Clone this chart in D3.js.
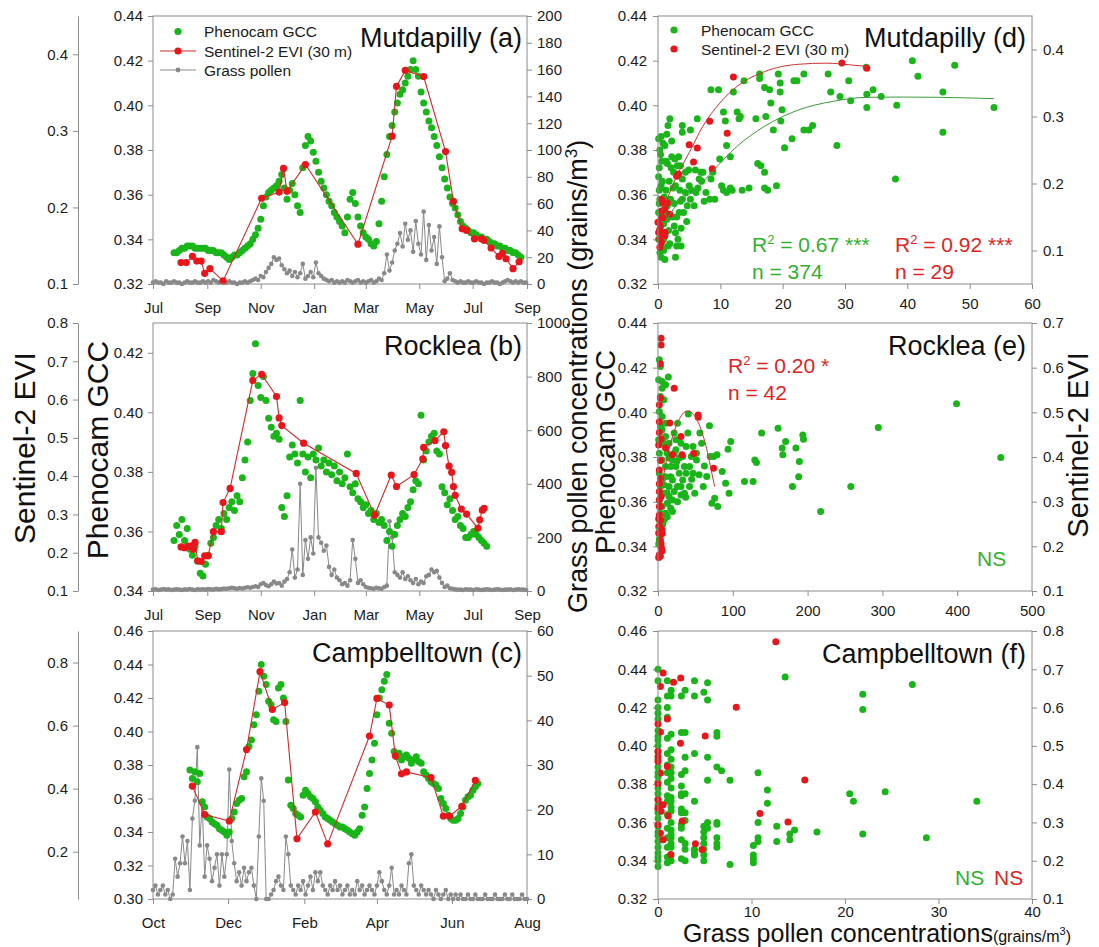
<!DOCTYPE html>
<html><head><meta charset="utf-8">
<script src="https://cdn.jsdelivr.net/npm/d3@7"></script>
<style>
body{margin:0;background:#fff;}
svg{display:block;}
</style></head><body>
<svg id="chart" width="1099" height="947"></svg>
<script>
// ===================== DATA =====================
const monthTicksAB = ["2017-07-01","2017-09-01","2017-11-01","2018-01-01","2018-03-01","2018-05-01","2018-07-01","2018-09-01"];
const monthTicksC  = ["2017-10-01","2017-12-01","2018-02-01","2018-04-01","2018-06-01","2018-08-01"];

// Panel a (Mutdapilly) time series
const gccA_start = "2017-07-25", gccA_step = 3;
const gccA = [.334,.334,.335,.336,.336,.337,.337,.337,.336,.336,.336,.336,.336,.335,.335,.335,.334,.334,.334,.333,
.332,.331,.332,.333,.333,.334,.335,.336,.337,.338,.340,.342,.345,.349,.355,.359,.361,.362,.363,.364,
.366,.369,.363,.358,.362,.365,.360,.355,.352,.372,.382,.386,.384,.379,.375,.370,.366,.363,.360,.357,
.355,.352,.350,.348,.346,.343,.350,.358,.361,.356,.350,.346,.343,.341,.340,.338,.337,.339,.347,.357,
.368,.378,.386,.391,.397,.401,.405,.407,.410,.413,.416,.420,.416,.413,.406,.401,.397,.393,.390,.386,
.382,.377,.372,.367,.363,.359,.356,.354,.351,.348,.346,.345,.344,.343,.343,.342,.341,.341,.340,.340,
.339,.338,.338,.337,.337,.336,.336,.335,.335,.334,.334,.333,.332];
const polA_start = "2017-07-01", polA_step = 3;
const polA = [1,2,1,1,0,2,1,1,2,1,1,0,1,2,1, 1,2,1,1,2,1,2,1,3,2,1,2,1,1,2, 1,1,0,1,1,2,1,2,3,4,3,6,5,9,12,
15,20,18,19,14,11,8,10,6,9,5,8,15,4,6, 9,5,16,8,6,4,3,2,3,1,2,1,2,1,3, 2,1,2,3,1,2,1,2,3,1,2,4,3,8,22,
10,16,25,30,38,28,45,33,40,24,47,30,22,54,18, 44,25,35,15,43,20,2,4,8,3,2,1,2,1,1,
2,1,1,2,1,1,0,1,1,2,1,1,0,1,2, 3,2,1,2,1,2,1,1];
// [day offset from 2017-07-01, EVI]
const eviA = [[32,.128],[38,.128],[45,.136],[50,.130],[55,.130],[59,.114],[65,.120],[80,.104],[124,.212],[144,.220],
[149,.251],[153,.221],[174,.256],[234,.152],[273,.293],[278,.358],[288,.379],[309,.371],[334,.273],[343,.208],
[353,.172],[358,.170],[367,.159],[375,.159],[378,.157],[386,.147],[395,.136],[399,.140],[403,.133],[411,.120],[418,.129]];

// Panel b (Rocklea)
const gccB_start = "2017-07-25", gccB_step = 3;
const gccB = [.357,.362,.359,.364,.357,.361,.354,.352,.355,.350, .346,.345,.349,.352,.356,.358,.362,.364,.361,.366,
.364,.368,.370,.367,.372,.370,.378,.384,.390,.404, .413,.423,.409,.405,.412,.404,.398,.395,.392,.393,
.391,.368,.365,.372,.385,.389,.386,.383,.404,.386, .380,.385,.378,.386,.384,.388,.382,.384,.380,.383,
.379,.382,.377,.380,.376,.378,.386,.375,.373,.376, .371,.370,.368,.369,.366,.367,.364,.366,.363,.364,
.362,.357,.360,.355,.359,.362,.364,.366,.365,.368, .370,.374,.377,.376,.399,.384,.387,.390,.392,.393,
.387,.386,.375,.373,.369,.371,.367,.364,.365,.362, .361,.358,.358,.359,.360,.359,.358,.357,.356,.355];
const polB_start = "2017-07-01", polB_step = 3;
const polB = [5,6,4,5,7,5,6,4,5,6,5,4,6,5,7, 5,4,6,5,6,5,7,6,5,8,6,7,9,8,10, 12,10,8,11,9,12,14,12,15,18,15,25,30,22,18,
25,35,28,30,20,35,45,70,155,50,80,400,60,190,120, 200,140,460,200,180,150,170,90,60,80,50,40,25,30,20,
40,190,120,30,40,25,15,12,10,8,12,10,8,15,20, 260,200,70,60,50,70,45,55,40,30,45,25,35,30,55,
60,80,70,75,50,30,15,20,10,8,6,5,5,4,6, 5,5,4,6,5,4,5,6,5,4,5,6,5,4,5, 5,6,4,5,6,5,5,4];
const eviB = [[32,.215],[36,.213],[40,.217],[44,.218],[46,.209],[48,.227],[51,.179],[55,.177],[59,.192],[63,.192],
[69,.255],[78,.255],[80,.331],[88,.368],[114,.650],[124,.666],[141,.608],[144,.552],[147,.532],[172,.486],
[232,.407],[253,.298],[272,.403],[278,.373],[298,.404],[308,.445],[309,.475],[322,.493],[332,.516],[334,.480],
[338,.426],[341,.410],[343,.373],[345,.350],[352,.314],[358,.301],[371,.264],[373,.286],[376,.311],[378,.316]];

// Panel c (Campbelltown)
const gccC_start = "2017-10-31", gccC_step = 2;
const gccC = [.377,.372,.376,.370,.375,.358,.355,.349,.348,.346, .345,.344,.342,.341,.340,.338,.340,.348,.352,.357,
.359,.360,.373,.376,.391,.395,.404,.410,.424,.440, .433,.428,.418,.416,.407,.406,.426,.428,.420,.406,
.371,.356,.354,.351,.350,.349,.362,.365,.363,.361, .360,.358,.355,.353,.351,.349,.348,.347,.346,.345,
.344,.343,.343,.342,.341,.340,.339,.338,.340,.342, .350,.355,.366,.375,.383,.393,.410,.420,.425,.430,
.434,.405,.399,.388,.385,.387,.383,.385,.386,.384, .381,.383,.385,.382,.381,.376,.374,.372,.370,.369,
.368,.366,.360,.357,.354,.350,.348,.347,.347,.348, .351,.355,.359,.361,.362,.365,.367,.369];
const polC_start = "2017-10-01", polC_step = 2;
const polC = [2,3,1,2,3,1,2,0,1,9, 5,8,14,8,13,2,18,22,34,12, 22,5,12,9,4,7,10,3,10,5, 10,29,13,8,4,6,3,7,4,6,
7,3,0,14,27,22,0,0,1,2, 4,5,3,2,14,10,3,2,1,3, 2,4,1,3,5,2,6,4,6,3, 2,1,3,2,4,2,3,1,2,3,
1,2,1,4,2,3,1,2,3,2, 1,3,6,4,2,1,3,7,1,2, 1,3,2,1,8,10,3,2,1,3, 2,1,2,1,0,2,1,0,1,2,
0,1,0,1,0,1,0,0,1,0, 0,1,0,0,0,1,0,0,0,1, 0,0,0,1,0,0,1,0,0,0, 1,0,0];
// [day offset from 2017-10-01, EVI]
const eviC = [[32,.408],[42,.318],[62,.297],[76,.524],[87,.771],[97,.651],[107,.673],[117,.241],[132,.326],[142,.225],
[176,.567],[182,.686],[192,.665],[197,.504],[202,.447],[206,.453],[226,.435],[236,.313],[241,.313],[251,.344],[262,.426]];

// Panel d scatter: [pollen, GCC] and [pollen, EVI]
const scatD_gcc = [[0.1,.385],[0.5,.386],[0.3,.380],[0.4,.378],[0.1,.368],[0.5,.364],[0.3,.358],[0.1,.352],[0.4,.346],[0.1,.340],
[0.3,.334],[0.5,.332],[1.1,.331],[0.8,.336],[1.2,.343],[1.4,.349],[1.5,.355],[1.0,.359],[0.8,.383],[1.6,.391],
[1.1,.382],[1.5,.374],[1.9,.394],[2.2,.377],[2.5,.370],[2.8,.364],[2.6,.356],[3.0,.350],[2.8,.343],[3.0,.337],
[2.8,.332],[3.3,.377],[3.6,.373],[3.9,.391],[3.9,.388],[3.9,.367],[3.9,.358],[4.1,.352],[3.7,.345],[3.7,.337],
[4.4,.370],[4.4,.361],[4.7,.355],[5.0,.364],[5.2,.358],[5.2,.389],[5.8,.355],[6.1,.361],[6.3,.394],[6.6,.367],
[6.9,.370],[7.2,.370],[7.7,.361],[8.3,.358],[8.5,.407],[8.5,.367],[8.8,.370],[9.1,.358],[9.7,.407],[9.9,.376],
[10.2,.364],[10.5,.362],[10.5,.397],[10.8,.393],[11.0,.382],[11.0,.361],[11.6,.377],[11.6,.363],[11.9,.362],[12.1,.406],
[12.7,.397],[13.0,.394],[13.2,.395],[13.5,.362],[13.8,.411],[14.6,.363],[15.7,.394],[16.0,.374],[16.3,.414],[16.3,.412],
[16.5,.373],[17.1,.370],[17.1,.363],[17.1,.408],[17.3,.395],[17.6,.362],[17.9,.407],[18.1,.401],[18.5,.389],[19.0,.364],
[19.3,.414],[19.6,.410],[19.6,.406],[19.7,.393],[19.9,.398],[20.3,.381],[21.5,.385],[21.8,.411],[22.3,.411],[23.4,.414],
[23.4,.389],[24.2,.389],[24.8,.391],[27.3,.414],[27.7,.406],[28.7,.382],[29.2,.404],[30.6,.411],[30.9,.402],[33.4,.417],
[33.5,.405],[33.5,.399],[34.5,.407],[35.8,.404],[38.1,.367],[38.3,.400],[40.8,.420],[41.7,.413],[45.7,.406],[45.7,.388],
[47.6,.418],[53.9,.399],[0.2,.362],[0.6,.375],[0.2,.372],[0.7,.366],[0.3,.344],[0.6,.350],[0.2,.356],[0.9,.340],
[1.3,.362],[1.8,.366],[2.0,.358],[2.3,.350],[1.7,.344],[1.9,.338],[2.4,.363],[2.1,.372],[1.3,.375],[0.5,.340],
[0.9,.347],[1.2,.352],[2.6,.346],[3.4,.352],[3.2,.340],[4.6,.348],[5.4,.362],[6.4,.363],[7.0,.366],[7.4,.357],
[6.0,.371],[4.9,.371],[3.5,.362],[2.2,.384],[1.4,.387],[0.4,.363],[0.9,.335],[1.6,.337],[2.7,.376],[3.1,.373],[3.6,.357]];
const scatD_evi = [[0.3,.105],[0.3,.132],[0,.142],[0.55,.159],[0.8,.171],[1.1,.162],[0.3,.117],[0.8,.122],[1.1,.122],[0.55,.149],
[1.5,.171],[1.9,.154],[3.0,.211],[3.3,.214],[5.0,.258],[5.7,.232],[6.3,.253],[8.3,.293],[8.7,.222],[11.1,.275],
[12.1,.359],[29.5,.380],[33.5,.372],[0.55,.176],[0.4,.137],[0.8,.149],[0.1,.127],[0.55,.112],[1.1,.127]];
const fitD_gcc = [[0.8,.346],[3.0,.3555],[6.1,.3625],[8.8,.3706],[12.7,.3817],[17.1,.3906],[22.6,.398],[28.1,.4018],[33.6,.4036],[39.2,.4037],[44.7,.4036],[53.9,.403]];
const fitD_evi = [[0.3,.152],[1.65,.181],[3.0,.211],[5.0,.246],[7.2,.2855],[9.9,.320],[12.7,.345],[17.1,.367],[22.6,.378],[27.0,.3796],[30.9,.377],[33.6,.3747]];

// Panel e scatter
const scatE_gcc = [[1.8,.4235],[3.2,.4205],[0.9,.4146],[5.5,.4138],[10.1,.4123],[13.8,.4158],[5.5,.4108],[3.2,.4071],[7.8,.4056],[1.8,.4004],
[5.5,.3981],[10.1,.3951],[3.2,.3937],[0.9,.3877],[7.8,.3862],[1.8,.3817],[5.5,.3787],[10.1,.3757],[1.8,.3727],[5.5,.3697],
[3.2,.3668],[7.8,.3638],[1.8,.3608],[5.5,.3578],[3.2,.3548],[1.8,.3518],[0.9,.3488],[3.2,.3458],[10.1,.3548],[17.0,.3571],
[19.3,.3556],[14.7,.3623],[14.7,.3668],[19.3,.3697],[17.0,.3757],[21.6,.3817],[14.7,.3862],[21.6,.3907],[26.1,.3951],[23.9,.3832],
[28.4,.3727],[26.1,.3668],[30.7,.3630],[33.0,.3697],[35.3,.3757],[33.0,.3802],[37.6,.3847],[39.9,.3907],[40.5,.3993],[42.2,.3668],
[46.8,.3727],[49.1,.3638],[51.4,.3787],[56.0,.3907],[58.3,.3862],[60.5,.3668],[65.1,.3713],[68.8,.3940],[69.7,.3802],[72.0,.3593],
[74.3,.3802],[75.7,.3615],[78.9,.3810],[79.8,.3578],[85.8,.3735],[90.4,.3683],[93.6,.3835],[95.0,.3638],[97.2,.3869],[138.5,.3907],
[115.6,.3690],[127.1,.3690],[129.4,.3787],[131.6,.3775],[160.5,.3929],[166.0,.3840],[166.9,.3810],[170.6,.3869],[179.8,.3668],[184.4,.3840],
[188.1,.3712],[189.0,.3780],[193.6,.3899],[194.5,.3880],[217.4,.3556],[257.8,.3668],[294.5,.3932],[399.1,.4038],[458.2,.3798],
[5.5,.3922],[10.1,.3892],[12.4,.3817],[14.7,.3795],[19.3,.3787],[23.9,.3757],[28.4,.3795],[30.7,.3862],[23.9,.3877],[17.0,.3712],
[21.6,.3645],[19.3,.3608],[26.1,.3600],[30.7,.3668],[35.3,.3638],[37.6,.3727],[42.2,.3757],[44.5,.3802],[46.8,.3847],[51.4,.3817],
[10.1,.3712],[7.8,.3675],[12.4,.3593],[12.4,.3533],[1.8,.3429],[3.7,.3399],[5.5,.3458],[1.0,.3410],[2.5,.3440],[6.5,.3500],
[8.5,.3520],[12.0,.3640],[25.0,.3780],[45,.3700],[55,.3720],[62,.3760],[37,.3620]];
const scatE_evi = [[4.1,.666],[4.1,.651],[3.2,.609],[21.6,.554],[3.2,.532],[1.8,.517],[1.8,.479],[15.6,.476],[0.9,.427],[10.1,.420],
[30.7,.446],[32.1,.405],[19.3,.405],[47.7,.408],[53.7,.494],[53.7,.489],[74.3,.375],[1.8,.371],[3.2,.352],[1.8,.323],
[4.1,.311],[1.8,.304],[3.2,.289],[1.8,.270],[3.2,.259],[5.5,.229],[3.2,.214],[4.6,.196],[1.8,.181],[0.9,.175],
[5.5,.237],[1.8,.340],[3.2,.392],[0.9,.230],[4.1,.206],[1.8,.289],[5.5,.190],[1.8,.455],[4.1,.440],[1.8,.246],[3.2,.178],[0.9,.262]];
const fitE_evi = [[4.6,.334],[10,.380],[15,.419],[20,.449],[25,.473],[30,.489],[35,.500],[40,.503],[45,.500],[50,.489],[55,.473],[60,.449],[65,.419],[70,.380],[75.7,.334]];

// Panel f scatter: GCC values grouped by pollen value
const scatF_gccCols = [
 [0,[.440,.434,.424,.420,.417,.414,.408,.405,.403,.400,.397,.393,.389,.386,.384,.381,.378,.375,.372,.369,.367,.365,.362,.358,.355,.353,.350,.347,.344,.342,.340,.337]],
 [1.0,[.434,.426,.420,.415,.404,.396,.390,.386,.381,.374,.371,.364,.357,.352,.347,.342,.339]],
 [1.4,[.429,.426,.406,.398,.393,.389,.386,.383,.378,.373,.371,.368,.366,.360,.356,.354,.352,.349,.347,.343,.340]],
 [2.5,[.426,.407,.385,.379,.375,.374,.367,.365,.359,.357,.351,.341]],
 [2.9,[.429,.407,.394,.387,.375,.365,.361,.349,.346,.340]],
 [3.9,[.434,.426,.396,.371,.346,.344,.343]],
 [4.9,[.428,.358,.355,.352,.349,.346,.343,.340]],
 [5.3,[.433,.424,.394,.382,.360,.357]],
 [6.3,[.407,.405,.389,.360,.359,.352,.349,.347]],
 [6.8,[.387]],[7.7,[.382,.338]],[10.2,[.348,.343,.341,.339]],[10.7,[.386,.360,.352,.350]],
 [11.7,[.377,.370]],[12.7,[.358,.350]],[13.6,[.436]],[14.1,[.354,.351]],[14.6,[.356]],[17.0,[.355]],
 [20.5,[.375]],[20.9,[.371]],[21.9,[.427,.419,.354]],[24.3,[.376]],[27.2,[.432]],[28.7,[.352]],[34.1,[.371]]];
const scatF_evi = [[0.55,.690],[0.26,.655],[1.66,.666],[2.43,.677],[1.0,.570],[0,.557],[0.26,.536],[8.37,.601],[5.05,.526],[2.40,.507],
[0,.485],[0,.472],[0,.459],[1.0,.446],[0.26,.429],[0,.401],[0,.359],[0.26,.346],[0.55,.346],[0,.337],
[0.33,.329],[1.1,.317],[2.58,.304],[0,.294],[0.26,.272],[0.55,.255],[4.0,.244],[4.7,.229],[1.36,.216],[12.6,.772],
[15.7,.411],[10.9,.323],[13.9,.301]];

const statsD = [{r2:"0.67", stars:"***", n:"374", color:"green"},{r2:"0.92", stars:"***", n:"29", color:"red"}];
const statsE = [{r2:"0.20", stars:"*", n:"42", color:"red"}];

// ===================== DRAWING =====================
const FONT = '"Liberation Sans", Arial, Helvetica, sans-serif';
const GREEN = "#19b519", RED = "#e8161b", REDLINE = "#cf2a2a", GREY = "#898989", AXIS = "#8c8c8c", TXT = "#1c1c1c";
const TXTGREEN = "#2fb12f", TXTRED = "#e02424";
const parse = d3.timeParse("%Y-%m-%d");
const svg = d3.select("#chart").attr("font-family", FONT);

const L = {x0:153, x1:527}, R = {x0:658, x1:1032};
const ROWS = [{y0:16, y1:284},{y0:323, y1:591},{y0:631, y1:899}];
const EVI_X = 78;

function series(start, step, vals){
  const s = parse(start);
  return vals.map((v,i)=>({date:d3.timeDay.offset(s, i*step), v}));
}
function dated(start, pairs){
  const s = parse(start);
  return pairs.map(([d,v])=>({date:d3.timeDay.offset(s, d), v}));
}
function addAxis(g, axis, tx, ty, keepDomain){
  const a = g.append("g").attr("transform", `translate(${tx},${ty})`).call(axis);
  a.attr("font-family", FONT).attr("font-size", 15);
  a.selectAll(".tick line").attr("stroke", AXIS);
  a.selectAll(".tick text").attr("fill", TXT);
  if (keepDomain) a.select(".domain").attr("stroke", AXIS); else a.select(".domain").remove();
  return a;
}

function timePanel(p){
  const row = ROWS[p.row];
  const g = svg.append("g");
  const x = d3.scaleTime().domain([parse(p.start), parse(p.end)]).range([L.x0, L.x1]);
  const yG = d3.scaleLinear().domain(p.gccDom).range([row.y1, row.y0]);
  const yE = d3.scaleLinear().domain(p.eviDom).range([row.y1, row.y0]);
  const yP = d3.scaleLinear().domain(p.polDom).range([row.y1, row.y0]);

  addAxis(g, d3.axisLeft(yE).tickValues(p.eviTicks).tickFormat(d3.format(".1f")).tickSize(5).tickPadding(5).tickSizeOuter(0), EVI_X, 0, true);
  addAxis(g, d3.axisLeft(yG).tickValues(d3.range(p.gccDom[0], p.gccTop + 1e-9, 0.02)).tickFormat(d3.format(".2f")).tickSize(5).tickPadding(5).tickSizeOuter(0), L.x0, 0, false);
  addAxis(g, d3.axisRight(yP).tickValues(d3.range(0, p.polDom[1] + 1e-9, p.polStep)).tickFormat(d3.format("d")).tickSize(5).tickPadding(5).tickSizeOuter(0), L.x1, 0, false);
  addAxis(g, d3.axisBottom(x).tickValues(p.xTicks.map(parse)).tickFormat(d3.timeFormat("%b")).tickSize(5).tickPadding(13).tickSizeOuter(0), 0, row.y1, false);

  // pollen
  const pol = series(p.polStart, p.polStepDays, p.pol);
  g.append("path").datum(pol).attr("fill","none").attr("stroke", GREY).attr("stroke-width", 1)
    .attr("d", d3.line().x(d=>x(d.date)).y(d=>yP(d.v)));
  g.append("g").selectAll("circle").data(pol).join("circle")
    .attr("cx", d=>x(d.date)).attr("cy", d=>yP(d.v)).attr("r", 2.3).attr("fill", GREY);
  // GCC
  const gcc = series(p.gccStart, p.gccStep, p.gcc);
  g.append("g").selectAll("circle").data(gcc).join("circle")
    .attr("cx", d=>x(d.date)).attr("cy", d=>yG(d.v)).attr("r", 3.5).attr("fill", GREEN);
  // EVI
  const evi = dated(p.eviStart, p.evi);
  g.append("path").datum(evi).attr("fill","none").attr("stroke", REDLINE).attr("stroke-width", 1.1)
    .attr("d", d3.line().x(d=>x(d.date)).y(d=>yE(d.v)));
  g.append("g").selectAll("circle").data(evi).join("circle")
    .attr("cx", d=>x(d.date)).attr("cy", d=>yE(d.v)).attr("r", 3.6).attr("fill", RED);

  g.append("rect").attr("x", L.x0).attr("y", row.y0).attr("width", L.x1-L.x0).attr("height", row.y1-row.y0)
    .attr("fill","none").attr("stroke", AXIS).attr("stroke-width", 1);
  g.append("text").attr("x", L.x1-5).attr("y", p.titleY).attr("text-anchor","end")
    .attr("font-size", 27).attr("fill", "#111").text(p.title);
}

function scatterPanel(p){
  const row = ROWS[p.row];
  const g = svg.append("g");
  const x = d3.scaleLinear().domain(p.xDom).range([R.x0, R.x1]);
  const yG = d3.scaleLinear().domain(p.gccDom).range([row.y1, row.y0]);
  const yE = d3.scaleLinear().domain(p.eviDom).range([row.y1, row.y0]);

  addAxis(g, d3.axisLeft(yG).tickValues(d3.range(p.gccDom[0], p.gccDom[1] + 1e-9, 0.02)).tickFormat(d3.format(".2f")).tickSize(5).tickPadding(6).tickSizeOuter(0), R.x0, 0, false);
  addAxis(g, d3.axisRight(yE).tickValues(p.eviTicks).tickFormat(d3.format(".1f")).tickSize(5).tickPadding(6).tickSizeOuter(0), R.x1, 0, false);
  addAxis(g, d3.axisBottom(x).tickValues(d3.range(p.xDom[0], p.xDom[1] + 1e-9, p.xStep)).tickFormat(d3.format("d")).tickSize(5).tickPadding(p.xPad || 9.5).tickSizeOuter(0), 0, row.y1, false);

  g.append("g").selectAll("circle").data(p.gcc).join("circle")
    .attr("cx", d=>x(d[0])).attr("cy", d=>yG(d[1])).attr("r", 3.5).attr("fill", GREEN);
  g.append("g").selectAll("circle").data(p.evi).join("circle")
    .attr("cx", d=>x(d[0])).attr("cy", d=>yE(d[1])).attr("r", 3.5).attr("fill", RED);
  if (p.fitG) g.append("path").datum(p.fitG).attr("fill","none").attr("stroke","#3c9a3c").attr("stroke-width",1)
    .attr("d", d3.line().curve(d3.curveMonotoneX).x(d=>x(d[0])).y(d=>yG(d[1])));
  if (p.fitE) g.append("path").datum(p.fitE).attr("fill","none").attr("stroke","#c93434").attr("stroke-width",1)
    .attr("d", d3.line().curve(d3.curveMonotoneX).x(d=>x(d[0])).y(d=>yE(d[1])));

  g.append("rect").attr("x", R.x0).attr("y", row.y0).attr("width", R.x1-R.x0).attr("height", row.y1-row.y0)
    .attr("fill","none").attr("stroke", AXIS).attr("stroke-width", 1);
  g.append("text").attr("x", R.x1-6).attr("y", p.titleY).attr("text-anchor","end")
    .attr("font-size", 27).attr("fill", "#111").text(p.title);
  return g;
}

function statText(g, x, y, s){
  const col = s.color === "green" ? TXTGREEN : TXTRED;
  const t = g.append("text").attr("x", x).attr("y", y).attr("fill", col).attr("font-size", 21);
  t.append("tspan").text("R");
  t.append("tspan").attr("dy", -8).attr("font-size", 13).text("2");
  t.append("tspan").attr("dy", 8).text(` = ${s.r2} ${s.stars}`);
  g.append("text").attr("x", x).attr("y", y + 27).attr("fill", col).attr("font-size", 21).text(`n = ${s.n}`);
}

// ---- panels a, b, c ----
timePanel({row:0, title:"Mutdapilly (a)", titleY:47, start:"2017-07-01", end:"2018-09-01", xTicks:monthTicksAB,
  gccDom:[0.32,0.44], gccTop:0.44, eviDom:[0.1,0.45], eviTicks:[0.1,0.2,0.3,0.4], polDom:[0,200], polStep:20,
  gccStart:gccA_start, gccStep:gccA_step, gcc:gccA, polStart:polA_start, polStepDays:polA_step, pol:polA,
  eviStart:"2017-07-01", evi:eviA});
timePanel({row:1, title:"Rocklea (b)", titleY:355, start:"2017-07-01", end:"2018-09-01", xTicks:monthTicksAB,
  gccDom:[0.34,0.43], gccTop:0.42, eviDom:[0.1,0.8], eviTicks:[0.1,0.2,0.3,0.4,0.5,0.6,0.7,0.8], polDom:[0,1000], polStep:200,
  gccStart:gccB_start, gccStep:gccB_step, gcc:gccB, polStart:polB_start, polStepDays:polB_step, pol:polB,
  eviStart:"2017-07-01", evi:eviB});
timePanel({row:2, title:"Campbelltown (c)", titleY:662, start:"2017-10-01", end:"2018-08-01", xTicks:monthTicksC,
  gccDom:[0.30,0.46], gccTop:0.46, eviDom:[0.05,0.9], eviTicks:[0.2,0.4,0.6,0.8], polDom:[0,60], polStep:10,
  gccStart:gccC_start, gccStep:gccC_step, gcc:gccC, polStart:polC_start, polStepDays:polC_step, pol:polC,
  eviStart:"2017-10-01", evi:eviC});

// legend (panel a)
const lg = svg.append("g").attr("font-size", 15.5).attr("fill", TXT);
lg.append("circle").attr("cx",178).attr("cy",31.5).attr("r",3.6).attr("fill",GREEN);
lg.append("text").attr("x",204).attr("y",37).text("Phenocam GCC");
lg.append("line").attr("x1",160).attr("x2",196).attr("y1",51).attr("y2",51).attr("stroke",REDLINE).attr("stroke-width",1.1);
lg.append("circle").attr("cx",178).attr("cy",51).attr("r",3.6).attr("fill",RED);
lg.append("text").attr("x",204).attr("y",56.5).text("Sentinel-2 EVI (30 m)");
lg.append("line").attr("x1",160).attr("x2",196).attr("y1",70).attr("y2",70).attr("stroke",GREY).attr("stroke-width",1);
lg.append("circle").attr("cx",178).attr("cy",70).attr("r",2.4).attr("fill",GREY);
lg.append("text").attr("x",204).attr("y",75.5).text("Grass pollen");

// ---- panels d, e, f ----
const gD = scatterPanel({row:0, title:"Mutdapilly (d)", titleY:47, xDom:[0,60], xStep:10, gccDom:[0.32,0.44],
  eviDom:[0.05,0.45], eviTicks:[0.1,0.2,0.3,0.4], gcc:scatD_gcc, evi:scatD_evi, fitG:fitD_gcc, fitE:fitD_evi});
statText(gD, 752, 252, statsD[0]);
statText(gD, 895, 252, statsD[1]);
const ld = svg.append("g").attr("font-size", 15.5).attr("fill", TXT);
ld.append("circle").attr("cx",674).attr("cy",30).attr("r",3.6).attr("fill",GREEN);
ld.append("text").attr("x",701).attr("y",35.5).text("Phenocam GCC");
ld.append("circle").attr("cx",674).attr("cy",49).attr("r",3.6).attr("fill",RED);
ld.append("text").attr("x",701).attr("y",54.5).text("Sentinel-2 EVI (30 m)");

const gE = scatterPanel({row:1, title:"Rocklea (e)", titleY:355, xDom:[0,500], xStep:100, gccDom:[0.32,0.44],
  eviDom:[0.1,0.7], eviTicks:[0.1,0.2,0.3,0.4,0.5,0.6,0.7], gcc:scatE_gcc, evi:scatE_evi, fitE:fitE_evi});
statText(gE, 728, 373, statsE[0]);
gE.append("text").attr("x",977).attr("y",566).attr("fill",TXTGREEN).attr("font-size",21).text("NS");

const scatF_gcc = scatF_gccCols.flatMap(([xv, ys]) => ys.map(y => [xv, y]));
const gF = scatterPanel({row:2, title:"Campbelltown (f)", titleY:663, xDom:[0,40], xStep:10, gccDom:[0.32,0.46], xPad:2,
  eviDom:[0.1,0.8], eviTicks:[0.1,0.2,0.3,0.4,0.5,0.6,0.7,0.8], gcc:scatF_gcc, evi:scatF_evi});
gF.append("text").attr("x",955).attr("y",885).attr("fill",TXTGREEN).attr("font-size",21).text("NS");
gF.append("text").attr("x",994).attr("y",885).attr("fill",TXTRED).attr("font-size",21).text("NS");

// ---- axis titles ----
const titles = svg.append("g").attr("fill", "#111");
titles.append("text").attr("transform","translate(35,448) rotate(-90)").attr("text-anchor","middle").attr("font-size",30).text("Sentinel-2 EVI");
titles.append("text").attr("transform","translate(108,450) rotate(-90)").attr("text-anchor","middle").attr("font-size",30).text("Phenocam GCC");
const gp = titles.append("text").attr("transform","translate(587,613) rotate(-90)").attr("text-anchor","start").attr("font-size",27);
gp.append("tspan").text("Grass pollen concentrations (grains/m");
gp.append("tspan").attr("dy",-10).attr("font-size",17).text("3");
gp.append("tspan").attr("dy",10).text(")");
titles.append("text").attr("transform","translate(615,452) rotate(-90)").attr("text-anchor","middle").attr("font-size",28).text("Phenocam GCC");
titles.append("text").attr("transform","translate(1088,445) rotate(-90)").attr("text-anchor","middle").attr("font-size",29).text("Sentinel-2 EVI");
const bt = titles.append("text").attr("x",683).attr("y",942).attr("font-size",25);
bt.append("tspan").text("Grass pollen concentrations");
bt.append("tspan").attr("font-size",16).text("(grains/m");
bt.append("tspan").attr("font-size",11).attr("dy",-7).text("3");
bt.append("tspan").attr("font-size",16).attr("dy",7).text(")");
</script></body></html>
